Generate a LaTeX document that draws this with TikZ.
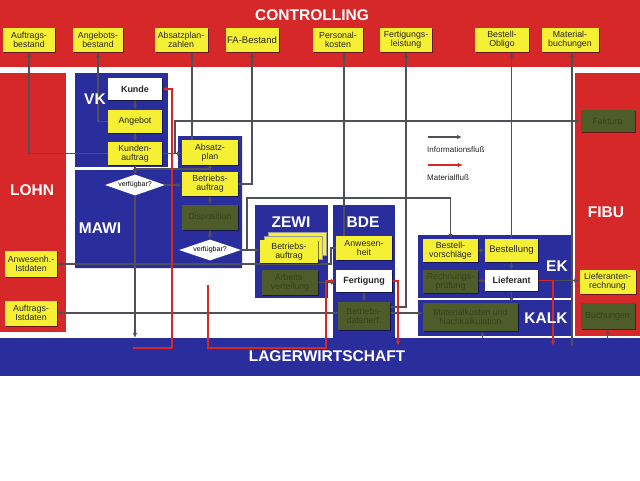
\documentclass[tikz,border=0pt]{standalone}
\usepackage{fontspec}
\setmainfont{Liberation Sans}
\usetikzlibrary{shapes.geometric,arrows.meta,shadows}
\definecolor{cred}{HTML}{D62828}
\definecolor{cblue}{HTML}{2A2E9C}
\definecolor{cyel}{HTML}{F6F035}
\definecolor{colive}{HTML}{4E5C2A}
\definecolor{coltext}{HTML}{36421C}
\definecolor{cline}{HTML}{505058}
\pgfdeclarelayer{bg}
\pgfdeclarelayer{lines}
\pgfsetlayers{bg,lines,main}
\begin{document}
\begin{tikzpicture}[x=1pt,y=-1pt,
  region/.style={anchor=north west, inner sep=0pt, outer sep=0pt, draw=none},
  shad/.style={drop shadow={shadow xshift=1.3pt, shadow yshift=-1.3pt, fill=black, opacity=0.5}},
  box/.style={inner sep=0.5pt, align=center, font=\fontsize{8.8}{9}\selectfont, text=black!85},
  ybox/.style={box, fill=cyel, shad},
  wbox/.style={box, fill=white, font=\fontsize{9}{9.5}\selectfont\bfseries, shad},
  obox/.style={box, fill=colive, text=coltext, shad},
  dia/.style={diamond, fill=white, inner sep=0pt, aspect=3.4, font=\fontsize{7}{7.5}\selectfont},
  lbl/.style={text=white, font=\bfseries\fontsize{15.5}{15.5}\selectfont},
  legtext/.style={anchor=west, inner sep=0pt, font=\fontsize{8}{8.5}\selectfont, text=black!85},
  info/.style={draw=cline, line width=1.5pt, -{Latex[length=5pt,width=4.5pt]}},
  mat/.style={draw=cred, line width=1.5pt, -{Latex[length=5pt,width=4.5pt]}},
]
\useasboundingbox (0,0) rectangle (640,480);
\begin{pgfonlayer}{bg}
\fill[white] (0,0) rectangle (640,480);
\node[region, fill=cred, minimum width=640, minimum height=67] (ctrl) at (0,0) {};
\node[region, fill=cred, minimum width=66, minimum height=259] (lohn) at (0,73) {};
\node[region, fill=cred, minimum width=65, minimum height=263] (fibu) at (575,73) {};
\node[region, fill=cblue, minimum width=640, minimum height=38] (lager) at (0,338) {};
\node[region, fill=cblue, minimum width=93, minimum height=94] (vk) at (75,73) {};
\fill[cblue] (75,170) -- (178,170) -- (178,136) -- (242,136) -- (242,268) -- (75,268) -- cycle;
\node[region, fill=cblue, minimum width=73, minimum height=93] (zewi) at (255,205) {};
\node[region, fill=cblue, minimum width=62, minimum height=133] (bde) at (333,205) {};
\node[region, fill=cblue, minimum width=153, minimum height=63] (ek) at (418,235) {};
\node[region, fill=cblue, minimum width=153, minimum height=36] (kalk) at (418,300) {};
\end{pgfonlayer}

% region labels
\node[lbl] (tctrl) at (312,15) {CONTROLLING};
\node[lbl] (tlager) at (327,356) {LAGERWIRTSCHAFT};
\node[lbl] (tlohn) at (32,190) {LOHN};
\node[lbl] (tfibu) at (606,212) {FIBU};
\node[lbl] (tvk) at (95,99) {VK};
\node[lbl] (tmawi) at (100,228) {MAWI};
\node[lbl] (tzewi) at (291,222) {ZEWI};
\node[lbl] (tbde) at (363,222) {BDE};
\node[lbl] (tek) at (557,266) {EK};
\node[lbl] (tkalk) at (546,318) {KALK};

% controlling boxes
\node[ybox, minimum width=52, minimum height=24] (ab) at (29,40) {Auftrags-\\bestand};
\node[ybox, minimum width=50, minimum height=24] (angb) at (98,40) {Angebots-\\bestand};
\node[ybox, minimum width=53, minimum height=24] (apz) at (181,40) {Absatzplan-\\zahlen};
\node[ybox, minimum width=53, minimum height=24, font=\fontsize{9.5}{10}\selectfont] (fab) at (252,40) {FA-Bestand};
\node[ybox, minimum width=50, minimum height=24] (pk) at (338,40) {Personal-\\kosten};
\node[ybox, minimum width=52, minimum height=24] (fl) at (406,40) {Fertigungs-\\leistung};
\node[ybox, minimum width=54, minimum height=24] (bo) at (502,40) {Bestell-\\Obligo};
\node[ybox, minimum width=57, minimum height=24] (mb) at (570,40) {Material-\\buchungen};

% VK / MAWI
\node[wbox, minimum width=54, minimum height=22] (kunde) at (135,89) {Kunde};
\node[ybox, minimum width=54, minimum height=23] (ang) at (135,121.5) {Angebot};
\node[ybox, minimum width=54, minimum height=23] (kauf) at (135,153.5) {Kunden-\\auftrag};
\node[ybox, minimum width=56, minimum height=25] (apan) at (210,152.5) {Absatz-\\plan};
\node[ybox, minimum width=56, minimum height=24] (bauf) at (210,184) {Betriebs-\\auftrag};
\node[obox, minimum width=56, minimum height=25] (disp) at (210,217.5) {Disposition};
\node[dia, minimum width=62, minimum height=21] (v2) at (210,250) {verfügbar?};
\node[dia, minimum width=60, minimum height=21] (v1) at (135,185) {verfügbar?};

% ZEWI
\node[ybox, minimum width=58, minimum height=23, draw=black!40, line width=0.3pt] (zbb2) at (297,243.5) {};
\node[ybox, minimum width=58, minimum height=23, draw=black!40, line width=0.3pt] (zbb1) at (293,247.5) {};
\node[ybox, minimum width=58, minimum height=23] (zba) at (289,251.5) {Betriebs-\\auftrag};
\node[obox, minimum width=56, minimum height=25] (av) at (290,282.5) {Arbeits-\\verteilung};

% BDE
\node[ybox, minimum width=56, minimum height=24] (anw) at (364,248) {Anwesen-\\heit};
\node[wbox, minimum width=56, minimum height=22] (fert) at (364,281) {Fertigung};
\node[obox, minimum width=52, minimum height=28] (bdat) at (364,316) {Betriebs-\\datenerf.};

% EK / KALK
\node[ybox, minimum width=55, minimum height=23] (bv) at (450.5,250.5) {Bestell-\\vorschläge};
\node[ybox, minimum width=53, minimum height=23, font=\fontsize{9.5}{10}\selectfont] (best) at (511.5,250.5) {Bestellung};
\node[obox, minimum width=55, minimum height=23] (rp) at (450.5,281.5) {Rechnungs-\\prüfung};
\node[wbox, minimum width=53, minimum height=21] (lief) at (511.5,280.5) {Lieferant};
\node[obox, minimum width=95, minimum height=28] (mk) at (470.5,317) {Materialkosten und\\Nachkalkulation};

% FIBU
\node[obox, minimum width=54, minimum height=22] (fak) at (607.5,121) {Faktura};
\node[ybox, minimum width=56, minimum height=24] (lr) at (607.5,282) {Lieferanten-\\rechnung};
\node[obox, minimum width=54, minimum height=26] (buch) at (607.5,316) {Buchungen};

% LOHN
\node[ybox, minimum width=52, minimum height=26] (ais) at (31,264) {Anwesenh.-\\Istdaten};
\node[ybox, minimum width=52, minimum height=25] (aist) at (31,313) {Auftrags-\\Istdaten};

% legend
\coordinate (la1) at (428,137);
\coordinate (la2) at (462,137);
\coordinate (lb1) at (428,165);
\coordinate (lb2) at (463,165);
\node[legtext] (lt1) at (427,150) {Informationsfluß};
\node[legtext] (lt2) at (427,178) {Materialfluß};

% free ends
\coordinate (r1) at (133,348);
\coordinate (r2) at (208,285);
\coordinate (r3) at (398,346);
\coordinate (r4) at (553,346);
\coordinate (g1) at (572,346);

\begin{pgfonlayer}{lines}
\draw[info] (kunde.south) -- (ang.north);
\draw[info] (ang.south) -- (kauf.north);
\draw[info] (kauf.west) -| (ab.south);
\draw[info] (ang.west) -| (angb.south);
\draw[info] (kauf.east) -- (kauf.east -| apan.west);
\draw[info] (kauf.east) -- ++(13,0) |- (fak.west);
\draw[info] ([xshift=-18pt]apan.north) -- ([xshift=-18pt]apan.north |- apz.south);
\draw[info] (apan.south) -- (bauf.north);
\draw[info] (apan.south) -- ++(0,4) -| (v1.north);
\draw[info] (kauf.south) -- (v1.north);
\draw[info] (v1.east) -- (v1.east -| bauf.west);
\draw[info] (v1.south) -- (v1.south |- lager.north);
\draw[info] (bauf.east) -| (fab.south);
\draw[info] (bauf.south) -- (disp.north);
\draw[info] (disp.south) -- (v2.north);
\draw[info] (v2.east) -- (v2.east -| zba.west);
\draw[info] (v2.east) -- ++(6,0) -- ++(0,-52) -| (bv.north);
\draw[info] (anw.west) -- ++(-5,0) |- (ais.east);
\draw[info] ([xshift=-20pt]anw.north) -- ([xshift=-20pt]anw.north |- pk.south);
\draw[info] (av.east) -- (av.east -| fert.west);
\draw[info] (fert.south) -- (bdat.north);
\draw[info] (bdat.west |- aist.east) -- (aist.east);
\draw[info] (bdat.east |- aist.east) -- (mk.west |- aist.east);
\draw[info] ([yshift=9pt]bdat.east) -| (fl.south);
\draw[info] (best.north) -- (best.north |- bo.south);
\draw[info] (bv.east) -- (best.west);
\draw[info] (best.south) -- (lief.north);
\draw[info] (lief.west) -- (lief.west -| rp.east);
\draw[info] (lief.east) -- (lief.east -| lr.west);
\draw[info] (lief.south) -- (lief.south |- mk.north);
\draw[info] ([xshift=12pt]mk.south |- lager.north) -- ([xshift=12pt]mk.south);
\draw[info] (buch.south |- lager.north) -- (buch.south);
\draw[info] (g1) -- (g1 |- mb.south);
\draw[info] (la1) -- (la2);
\draw[mat] (lb1) -- (lb2);
\draw[mat] (r1) -| ([xshift=10pt]kunde.east) -- (kunde.east);
\draw[mat] (r2) -- (r2 |- r1) -| ([xshift=-10pt]fert.west) -- (fert.west);
\draw[mat] (fert.east) -| (r3);
\draw[mat] (lief.east) -| (r4);
\end{pgfonlayer}
\end{tikzpicture}
\end{document}
